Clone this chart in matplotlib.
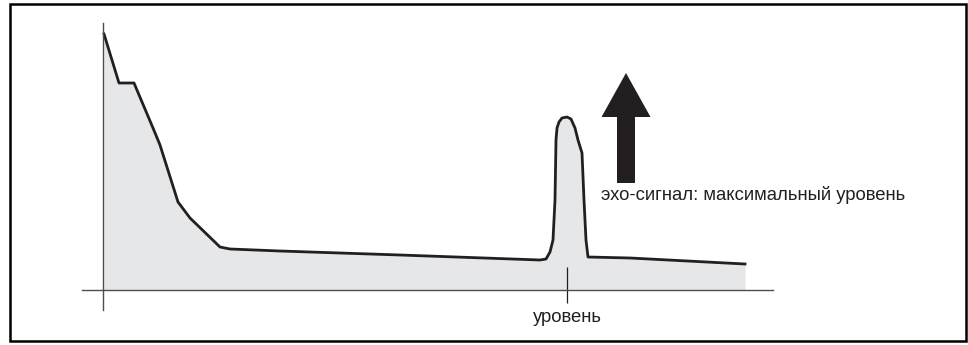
import matplotlib
matplotlib.use("Agg")
import matplotlib.pyplot as plt
from matplotlib.patches import Rectangle

plt.rcParams['font.family'] = ['Liberation Sans', 'DejaVu Sans']

# echo curve: distance vs amplitude (arbitrary units)
dist = [1, 16, 31, 50, 57, 75, 87, 117, 127, 177, 297, 437, 443, 447, 450,
        452, 453, 454, 456, 459, 464, 468, 472, 475, 479, 481, 483, 485, 527, 642]
ampl = [256, 207, 207, 162, 145, 88, 72, 43, 41, 39, 35, 30, 31, 38, 50,
        90, 150, 162, 168, 172, 173, 171, 162, 150, 137, 90, 50, 33, 32, 26]

level_x = 464
level_label = "уровень"
echo_label = "эхо-сигнал: максимальный уровень"

ink = "#231f20"
fill_col = "#e6e7e8"

fig = plt.figure(figsize=(9.68, 3.45), dpi=100)
ax = fig.add_axes([0, 0, 1, 1])
ax.set_xlim(-103, 865)
ax.set_ylim(-55, 290)

ax.fill_between(dist, ampl, 0, color=fill_col, lw=0)
ax.plot(dist, ampl, color=ink, lw=2.0, solid_joinstyle='round')

# axes drawn as spines crossing at the origin
for s in ['top', 'right']:
    ax.spines[s].set_visible(False)
ax.spines['left'].set_position(('data', 0))
ax.spines['left'].set_bounds(-20, 267)
ax.spines['bottom'].set_position(('data', 0))
ax.spines['bottom'].set_bounds(-21, 670)
for s in ['left', 'bottom']:
    ax.spines[s].set_color('#4d4d4d')
    ax.spines[s].set_linewidth(1.0)

ax.set_yticks([])
ax.set_xticks([level_x])
ax.set_xticklabels([level_label], fontsize=13.3, color=ink)
ax.tick_params(axis='x', direction='out', length=9.5, width=0.9, color=ink, pad=4)
ax.vlines(level_x, 0, 23, color=ink, lw=0.9)

# arrow marking the maximum echo level
ax.arrow(523, 107, 0, 110, width=18, head_width=49, head_length=44,
         length_includes_head=True, color=ink, lw=0)
ax.text(498, 95, echo_label, fontsize=13.3, color=ink, ha='left', va='center')

# frame around the figure
fig.patches.append(Rectangle((10 / 968, 4 / 345), 956 / 968, 337 / 345,
                             transform=fig.transFigure, fill=False,
                             edgecolor='black', lw=1.8))

fig.savefig("out.png", dpi=100)
